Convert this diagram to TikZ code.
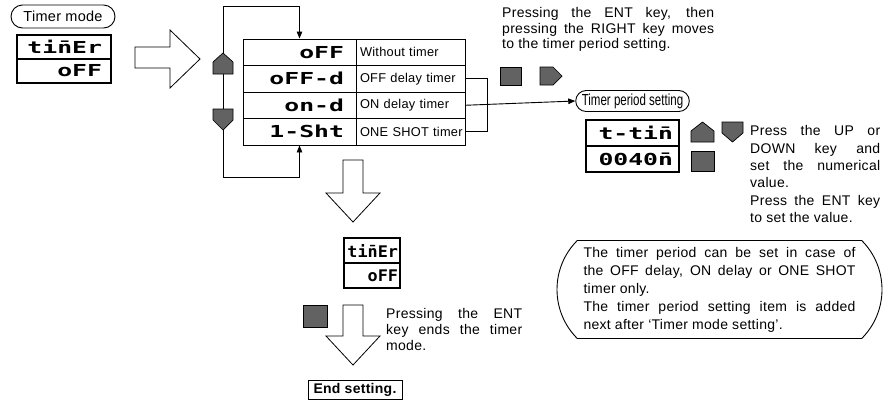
\documentclass[tikz,border=0pt]{standalone}
\usepackage{fontspec}
\setmainfont{Liberation Sans}[LetterSpace=2]
\newfontfamily\segf{DejaVu Sans Mono}[FakeStretch=1.5]
\newfontfamily\segn{DejaVu Sans Mono}[FakeStretch=1.05]
\newfontfamily\condf{Liberation Sans}[FakeStretch=0.72]
\usetikzlibrary{shapes.misc,arrows.meta}
\definecolor{keygray}{RGB}{98,98,98}
\newcommand\segA{\segf\bfseries\fontsize{16.5}{16.5}\selectfont}
\newcommand\segB{\segn\bfseries\fontsize{16}{16}\selectfont}
\begin{document}
\begin{tikzpicture}[x=1pt,y=-1pt,line join=miter,
  txt/.style={inner sep=0pt,anchor=north west,align=justify,font=\fontsize{14}{15.7}\selectfont},
  arr/.style={-{Triangle[length=7pt,width=5.5pt]}},
  conn/.style={draw,line width=0.9pt},
  keyshape/.style={fill=keygray,draw=black,line width=0.7pt},
  hollow/.style={draw,fill=white,line width=0.8pt},
  pill/.style={draw,rounded rectangle,line width=0.9pt,inner xsep=3pt,inner ysep=1pt},
  dispcell/.style={draw,line width=1.2pt,inner ysep=0pt,align=right},
  lcell/.style={draw,line width=0.9pt,minimum width=113pt,minimum height=26.5pt,inner ysep=0pt,inner xsep=12pt,text width=89pt,align=right,font=\segA},
  rcell/.style={draw,line width=0.9pt,minimum width=109pt,minimum height=26.5pt,inner ysep=0pt,inner xsep=4pt,text width=101pt,align=left,font=\fontsize{12.8}{12.8}\selectfont}
]
\useasboundingbox (0,0) rectangle (889,408);

% Timer mode label and first display
\node[pill,minimum width=110pt,minimum height=23pt,font=\fontsize{14.5}{14.5}\selectfont] (tm) at (63,16.5) {Timer mode};
\node[dispcell,minimum width=94pt,minimum height=24pt,inner xsep=9pt,text width=76pt,font=\segA] (d1a) at (64,47) {ti\=nEr};
\node[dispcell,minimum width=94pt,minimum height=24pt,inner xsep=9pt,text width=76pt,font=\segA] (d1b) at (64,71) {oFF};

% big right arrow
\draw[hollow] (135,47) -- (170,47) -- (170,30) -- (200,59) -- (170,88) -- (170,68) -- (135,68) -- cycle;

% table
\node[lcell] (l1) at (299.5,52.25) {oFF};
\node[lcell] (l2) at (299.5,78.75) {oFF-d};
\node[lcell] (l3) at (299.5,105.25) {on-d};
\node[lcell] (l4) at (299.5,131.75) {1-Sht};
\node[rcell] (r1) at (410.5,52.25) {\mbox{Without timer}};
\node[rcell] (r2) at (410.5,78.75) {\mbox{OFF delay timer}};
\node[rcell] (r3) at (410.5,105.25) {\mbox{ON delay timer}};
\node[rcell] (r4) at (410.5,131.75) {\mbox{ONE SHOT timer}};

% loop
\coordinate (lt) at (223,6);
\coordinate (lb) at (223,177);
\draw[conn,arr] (lb) -- (lt) -- (l1.north |- lt) -- (l1.north);
\draw[conn,arr] (lb) -- (l4.south |- lb) -- (l4.south);
\draw[keyshape] (213,74) -- (213,62) -- (223,53) -- (233,62) -- (233,74) -- cycle;
\draw[keyshape] (213,109) -- (233,109) -- (233,120) -- (223,130) -- (213,120) -- cycle;

% bracket and arrow to timer period setting
\coordinate (brk) at (487,0);
\draw[conn] (r2.east) -- (r2.east -| brk) -- (r4.east -| brk) -- (r4.east);
\node[pill,minimum width=111pt,minimum height=21pt,font=\condf\fontsize{16}{16}\selectfont] (tps) at (632.5,101) {Timer period setting};
\draw[conn,arr] (r3.east) -- (tps.west);

% top text and keys
\node[txt,text width=212pt] (ptext) at (502,7) {Pressing the ENT key, then\linebreak pressing the RIGHT key moves\linebreak to the timer period setting.};
\draw[keyshape] (500,67) rectangle (521,85);
\draw[keyshape] (540,67) -- (553,67) -- (562,76) -- (553,85) -- (540,85) -- cycle;

% second display
\node[dispcell,minimum width=93pt,minimum height=26pt,inner xsep=6pt,text width=81pt,font=\segA] (d2a) at (632.5,133) {t-ti\=n};
\node[dispcell,minimum width=93pt,minimum height=26pt,inner xsep=6pt,text width=81pt,font=\segA] (d2b) at (632.5,159) {0040\=n};
\draw[keyshape] (691,142) -- (691,131) -- (702.5,122) -- (714,131) -- (714,142) -- cycle;
\draw[keyshape] (722,122) -- (743,122) -- (743,133) -- (732.5,142) -- (722,133) -- cycle;
\draw[keyshape] (691,151) rectangle (714,171);
\node[txt,text width=130pt,font=\fontsize{14}{17.3}\selectfont] (rtext) at (750,125.5) {Press the UP or\linebreak DOWN key and\linebreak set the numerical\linebreak value.\par Press the ENT key\linebreak to set the value.};

% note box
\node[draw,rounded rectangle,rounded rectangle arc length=90,line width=0.9pt,minimum width=325pt,minimum height=98pt,text width=272pt,align=justify,inner sep=0pt,font=\fontsize{14}{18}\selectfont] (note) at (719.5,289.5) {The timer period can be set in case of\linebreak the OFF delay, ON delay or ONE SHOT\linebreak timer only.\par The timer period setting item is added\linebreak next after `Timer mode setting'.};

% down arrow 1
\draw[hollow] (343,160) -- (363,160) -- (363,193) -- (380,193) -- (353,222) -- (326,193) -- (343,193) -- cycle;

% third display
\node[dispcell,minimum width=56pt,minimum height=25pt,inner xsep=2pt,text width=52pt,font=\segB] (d3a) at (372,250.5) {ti\=nEr};
\node[dispcell,minimum width=56pt,minimum height=25pt,inner xsep=2pt,text width=52pt,font=\segB] (d3b) at (372,275.5) {oFF};

% down arrow 2, key, text
\draw[keyshape] (303,305) rectangle (327,327);
\draw[hollow] (343,305) -- (363,305) -- (363,336) -- (380,336) -- (353,365) -- (326,336) -- (343,336) -- cycle;
\node[txt,text width=136pt,font=\fontsize{14}{16}\selectfont] (btext) at (386,308) {Pressing the ENT\linebreak key ends the timer\linebreak mode.};

% end box
\node[draw,line width=1pt,minimum width=94pt,minimum height=19pt,inner sep=1pt,font=\bfseries\fontsize{14}{14}\selectfont] (endb) at (355,389.5) {End setting.};
\end{tikzpicture}
\end{document}
